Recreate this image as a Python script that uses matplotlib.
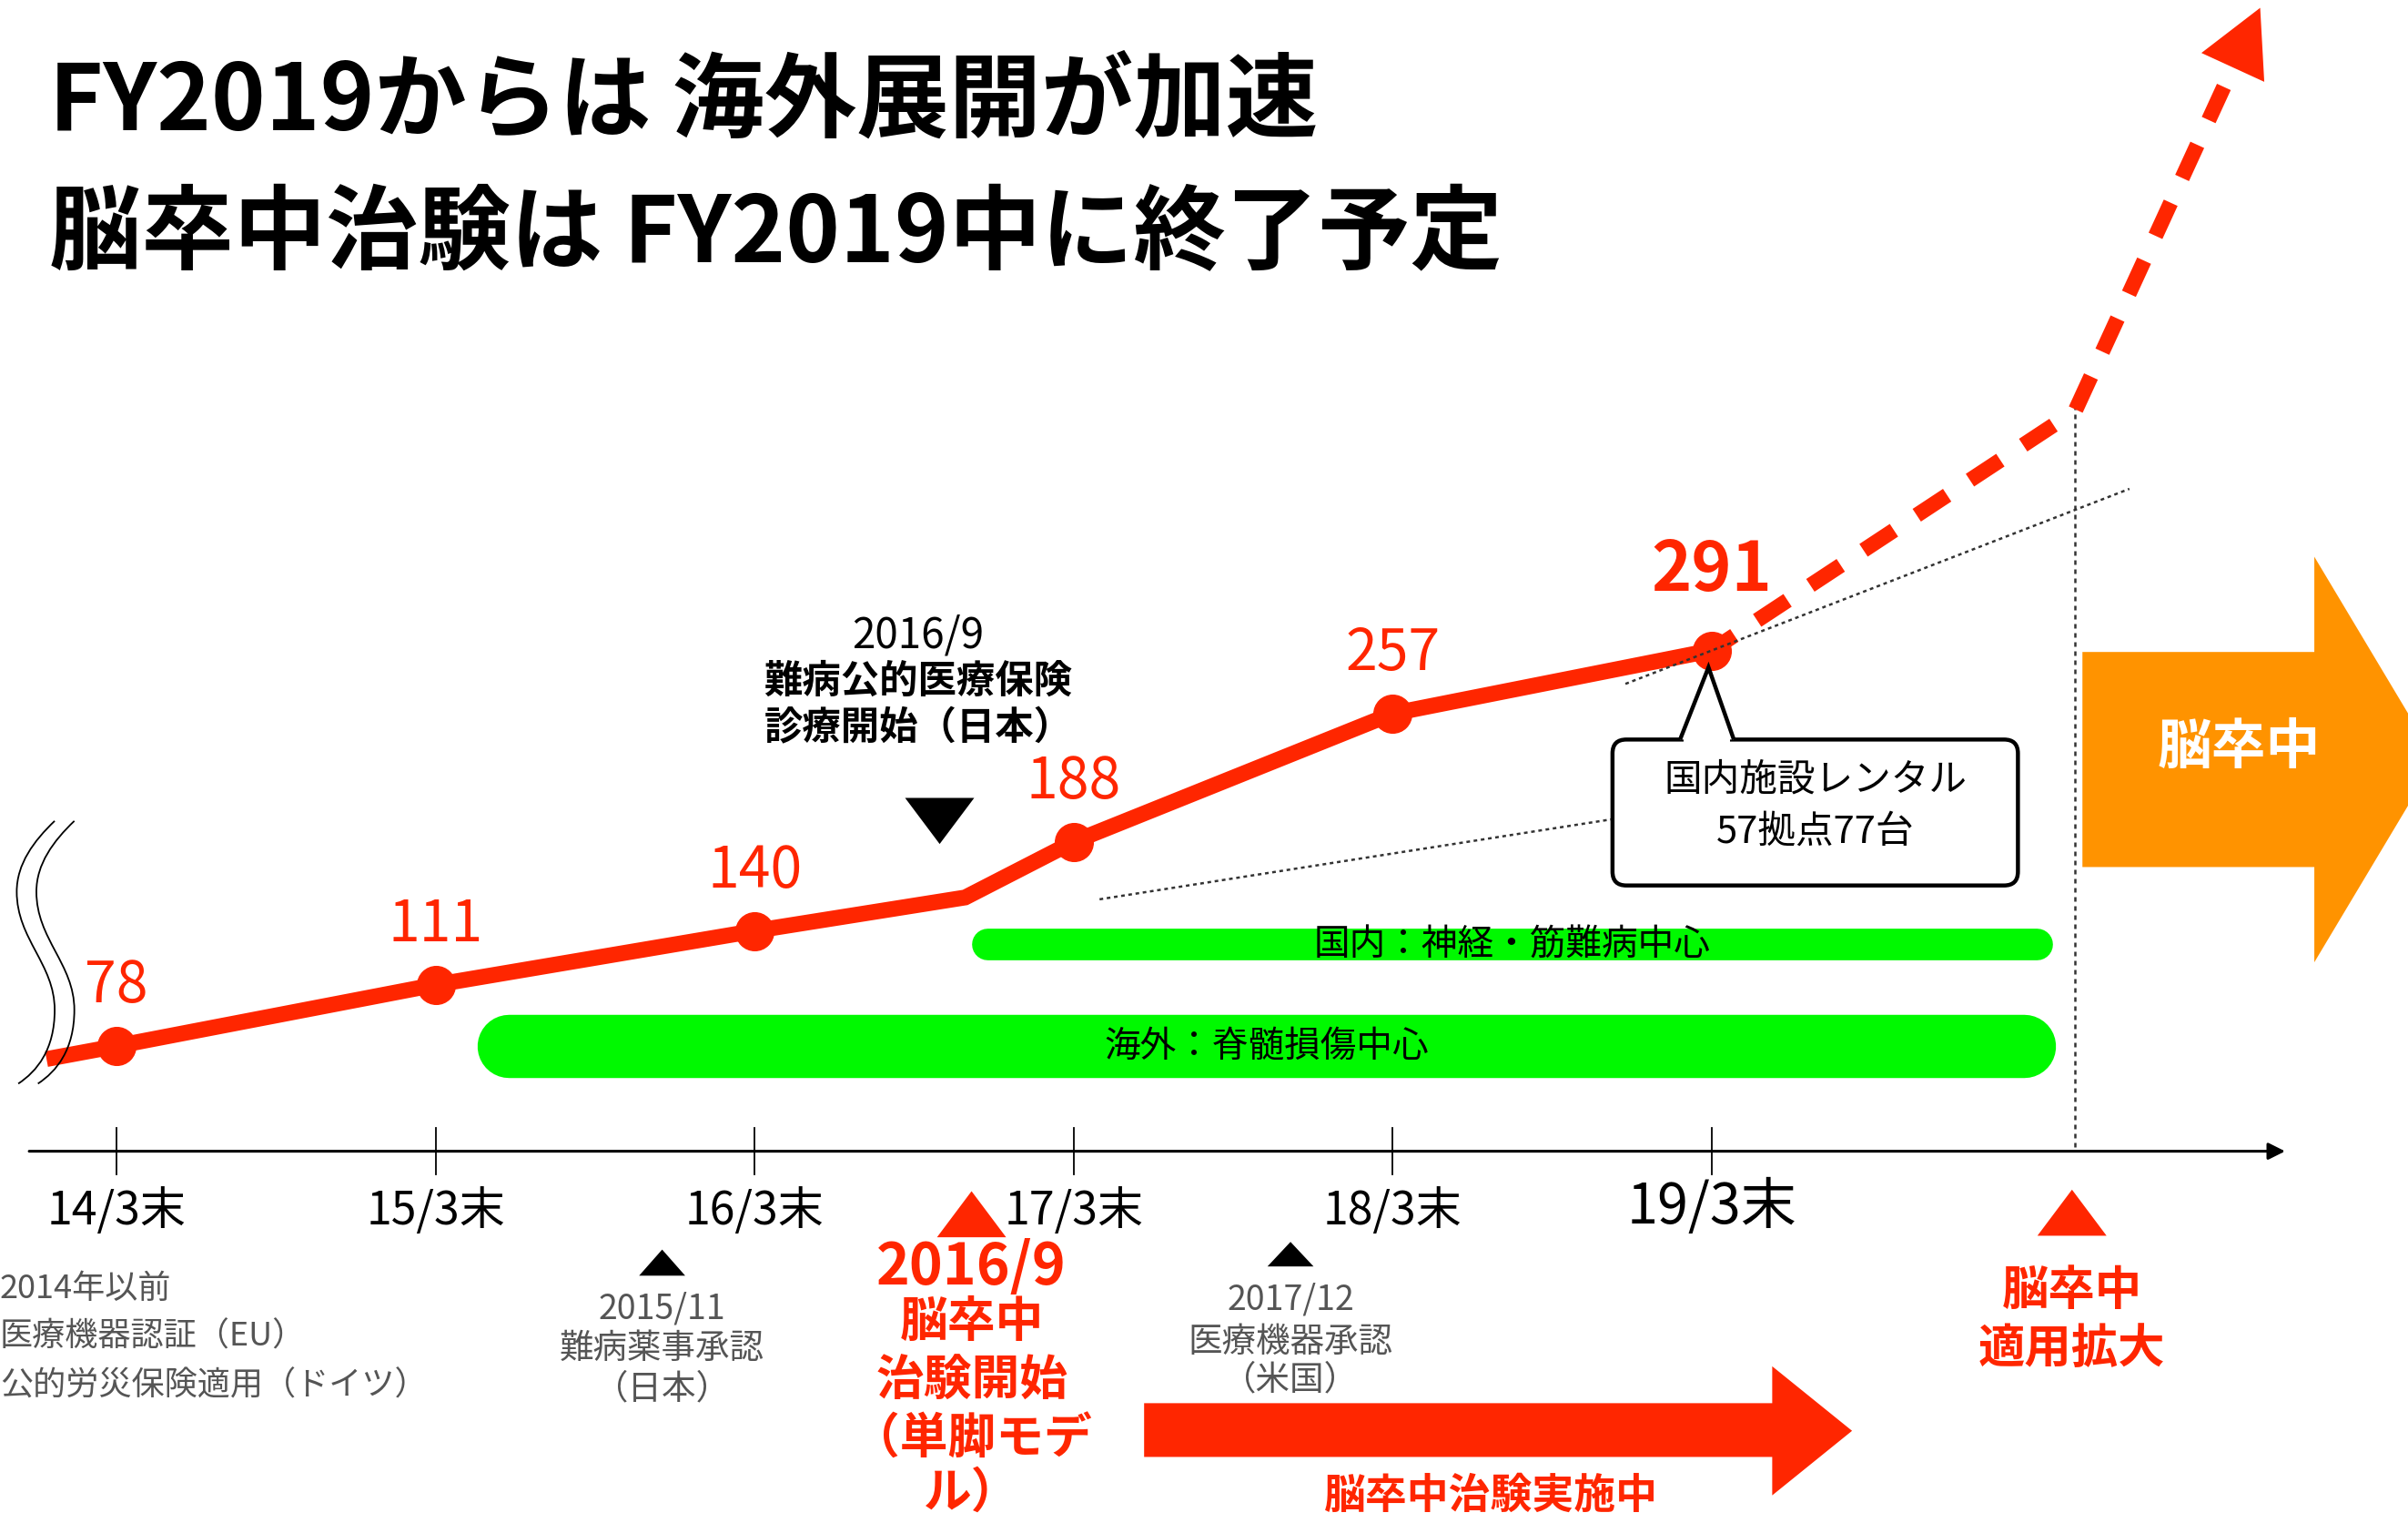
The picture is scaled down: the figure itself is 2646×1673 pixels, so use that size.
import matplotlib
matplotlib.use("Agg")
import matplotlib.pyplot as plt
import numpy as np
from matplotlib.patches import Polygon, FancyBboxPatch, PathPatch
from matplotlib.path import Path
from matplotlib.transforms import blended_transform_factory

plt.rcParams['font.family'] = ['Noto Sans CJK JP', 'DejaVu Sans']

RED = '#FF2600'
ORANGE = '#FF9300'
GREEN = '#00F900'
GRAY = '#555555'

# ---------------- data ----------------
period_labels = ['14/3末', '15/3末', '16/3末', '17/3末', '18/3末', '19/3末']
period_pos = [0, 1, 2, 3, 4, 5]
units = [78, 111, 140, 188, 257, 291]

stub_pos, stub_units = -0.22, 71      # line continues left of the break mark
bend_pos, bend_units = 2.66, 158      # bend of the line at 2016/9

proj_pos = [5, 6.14, 6.72]            # dashed projection
proj_units = [291, 420, 637]
trend_pos = [4.73, 6.31]              # dotted linear trend
trend_units = [273, 378]

band_labels = ['国内：神経・筋難病中心', '海外：脊髄損傷中心']
band_start = [2.73, 1.23]
band_end = [6.02, 5.98]

top_event_pos = 2.58
top_event_text = ['2016/9', '難病公的医療保険', '診療開始（日本）']

ev_2015_pos = 1.71
ev_2015_text = ['2015/11', '難病薬事承認', '（日本）']
ev_2016_pos = 2.68
ev_2016_date = '2016/9'
ev_2016_text = ['脳卒中', '治験開始', '（単脚モデ', 'ル）']
ev_2017_pos = 3.68
ev_2017_text = ['2017/12', '医療機器承認', '（米国）']
ev_future_pos = 6.13
ev_future_text = ['脳卒中', '適用拡大']
pre2014_text = ['2014年以前', '医療機器認証（EU）', '公的労災保険適用（ドイツ）']

callout_text = ['国内施設レンタル', '57拠点77台']
title_lines = ['FY2019からは 海外展開が加速', '脳卒中治験は FY2019中に終了予定']

# ---------------- figure ----------------
W, H = 1568, 992
fig = plt.figure(figsize=(26.46, 16.74), dpi=100)
ax = fig.add_axes([0, 0, 1, 1])
ax.set_xlim(-76 / 207.7, (W - 76) / 207.7)
ax.set_ylim(-178.8, 641.7)
ax.axis('off')
ov = fig.add_axes([0, 0, 1, 1])
ov.set_xlim(0, W)
ov.set_ylim(H, 0)
ov.axis('off')
ov.patch.set_alpha(0)

bt = blended_transform_factory(ax.transData, ov.transData)


def to_ov(x, y):
    return ov.transData.inverted().transform(ax.transData.transform((x, y)))


def xpix(x):
    return to_ov(x, 0)[0]


def lines(x, ys, texts, **kw):
    for y, t in zip(ys, texts):
        ov.text(x, y, t, va='center', **kw)


def tri(xc, ytop, ybot, w, color, up=True):
    if up:
        pts = [(xc, ytop), (xc - w / 2, ybot), (xc + w / 2, ybot)]
    else:
        pts = [(xc - w / 2, ytop), (xc + w / 2, ytop), (xc, ybot)]
    ov.add_patch(Polygon(pts, closed=True, facecolor=color, edgecolor='none', zorder=5))


# ---------------- title ----------------
ov.text(32, 67, title_lines[0], fontsize=73, weight='bold', va='center', ha='left')
ov.text(32, 153, title_lines[1], fontsize=73, weight='bold', va='center', ha='left')

# ---------------- main line ----------------
line_x = [stub_pos] + period_pos[:3] + [bend_pos] + period_pos[3:]
line_v = [stub_units] + units[:3] + [bend_units] + units[3:]
ax.plot(line_x, line_v, color=RED, lw=12.5, solid_joinstyle='miter',
        solid_capstyle='butt', zorder=4)
ax.plot(period_pos, units, 'o', ms=30, color=RED, zorder=5)
for p, v in zip(period_pos, units):
    big = (v == units[-1])
    ax.annotate(str(v), (p, v), xytext=(0, 64 if big else 48), textcoords='offset points',
                ha='center', va='center', fontsize=54 if big else 45,
                weight='bold' if big else 'normal', color=RED, zorder=6)

# projection dashed line with arrow head
tip = ax.transData.transform((proj_pos[-1], proj_units[-1]))
turn = ax.transData.transform((proj_pos[-2], proj_units[-2]))
u = (tip - turn) / np.hypot(*(tip - turn))
perp = np.array([-u[1], u[0]])
base = tip - u * 72
head = [tip, base + perp * 38, base - perp * 38]
head_d = ax.transData.inverted().transform(head)
base_d = ax.transData.inverted().transform(base)
ax.plot(proj_pos[:-1] + [base_d[0]], proj_units[:-1] + [base_d[1]], color=RED, lw=12,
        linestyle=(0.6, (2.4, 1.8)), solid_joinstyle='miter', dash_joinstyle='miter',
        dash_capstyle='butt', zorder=4)
ax.add_patch(Polygon(head_d, closed=True, facecolor=RED, edgecolor='none', zorder=4))

# dotted trend line and vertical marker
ax.plot(trend_pos, trend_units, color='#333333', lw=1.8, linestyle=(0, (1.6, 1.6)), zorder=7)
ax.plot([proj_pos[1], proj_pos[1]], [264, 748], transform=bt, color='#333333', lw=1.8,
        linestyle=(0, (2, 2)), zorder=3)

# ---------------- break mark ----------------
for dx in (0, 12.8):
    verts = [(35.6 + dx, 535), (22 + dx, 548), (10.9 + dx, 563), (10.9 + dx, 581),
             (10.9 + dx, 612), (35.6 + dx, 628), (35.6 + dx, 658),
             (35.6 + dx, 684), (24 + dx, 698), (11.9 + dx, 706)]
    codes = [Path.MOVETO] + [Path.CURVE4] * 9
    ov.add_patch(PathPatch(Path(verts, codes), facecolor='none', edgecolor='black', lw=1.3))

# ---------------- bands ----------------
band_y = [615, 681.5]
band_lw = [25, 50]
for lab, s, e, y, lw in zip(band_labels, band_start, band_end, band_y, band_lw):
    ax.plot([s, e], [y, y], transform=bt, color=GREEN, lw=lw, solid_capstyle='round', zorder=2)
    ov.text((xpix(s) + xpix(e)) / 2, y, lab, ha='center', va='center', fontsize=28.5, color='black')

# ---------------- time axis ----------------
ov.annotate('', xy=(1488, 750), xytext=(19, 750),
            arrowprops=dict(arrowstyle='-|>', lw=2.2, color='black', mutation_scale=28,
                            shrinkA=0, shrinkB=0))
for p, lab in zip(period_pos, period_labels):
    ax.plot([p, p], [735, 765], transform=bt, color='black', lw=1.3)
    last = (lab == period_labels[-1])
    ov.text(xpix(p), 786 if last else 789, lab, ha='center', va='center',
            fontsize=44 if last else 36, color='black')

# ---------------- events ----------------
# 2016/9 insurance (above line)
xt = xpix(top_event_pos)
tri(xt, 520, 550, 45, 'black', up=False)
ov.text(598, 414, top_event_text[0], ha='center', va='center', fontsize=33, color='black')
lines(598, [444, 474.5], top_event_text[1:], ha='center', fontsize=30.5, weight='bold', color='black')

# pre-2014
lines(0, [839, 870, 902], pre2014_text, ha='left', fontsize=26, color=GRAY)

# 2015/11
x1 = xpix(ev_2015_pos)
tri(x1, 814, 831, 30, 'black')
lines(x1, [852, 878, 904], ev_2015_text, ha='center', fontsize=27, color=GRAY)

# 2016/9 stroke trial start
x2 = xpix(ev_2016_pos)
tri(x2, 776, 806, 45, RED)
ov.text(x2, 825, ev_2016_date, ha='center', va='center', fontsize=45, weight='bold', color=RED)
lines(x2, [861, 899, 937, 972], ev_2016_text, ha='center', fontsize=38, weight='bold', color=RED)

# 2017/12
x3 = xpix(ev_2017_pos)
tri(x3, 809, 825, 30, 'black')
lines(x3, [846, 873.5, 898.5], ev_2017_text, ha='center', fontsize=27, color=GRAY)

# future expansion
x4 = xpix(ev_future_pos)
tri(x4, 775, 805, 45, RED)
lines(x4, [840, 878], ev_future_text, ha='center', fontsize=37, weight='bold', color=RED)

# trial ongoing arrow
ov.add_patch(Polygon([(745, 914), (1154, 914), (1154, 890), (1206, 932), (1154, 974),
                      (1154, 949), (745, 949)], closed=True, facecolor=RED, edgecolor='none'))
ov.text(971, 974, '脳卒中治験実施中', ha='center', va='center', fontsize=33, weight='bold', color=RED)

# orange stroke arrow
ov.add_patch(Polygon([(1356, 425), (1507, 425), (1507, 363), (1586, 495), (1507, 627),
                      (1507, 565), (1356, 565)], closed=True, facecolor=ORANGE, edgecolor='none'))
ov.text(1458, 487, '脳卒中', ha='center', va='center', fontsize=43, weight='bold', color='white')

# ---------------- callout ----------------
tx, ty = to_ov(period_pos[-1], units[-1])
ov.plot([716, 1049], [586, 534], color='#333333', lw=1.8, linestyle=(0, (1.6, 1.6)))
ov.add_patch(FancyBboxPatch((1050, 482), 264, 95, boxstyle='round,pad=0,rounding_size=9',
                            facecolor='white', edgecolor='black', lw=3.2, zorder=8))
ov.add_patch(Polygon([(1094, 482), (tx - 2, ty + 11), (1129, 482)], closed=False,
                     facecolor='white', edgecolor='black', lw=3.2, zorder=9))
ov.plot([1096.5, 1126.5], [482, 482], color='white', lw=4.5, solid_capstyle='butt', zorder=10)
lines(1182, [508, 542], callout_text, ha='center', fontsize=30, color='black', zorder=11)

fig.savefig('out.png', dpi=100, facecolor='white')
